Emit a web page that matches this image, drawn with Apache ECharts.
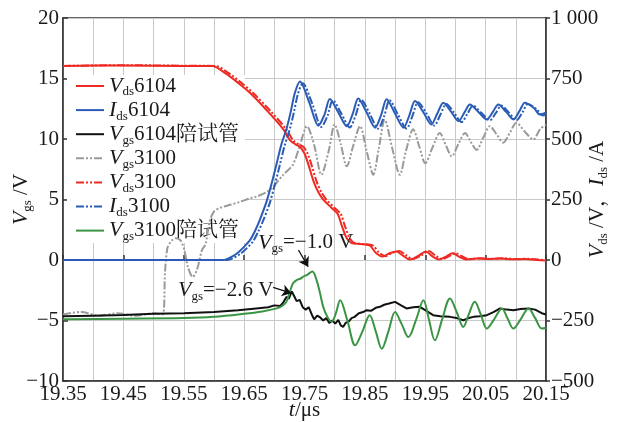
<!DOCTYPE html>
<html><head><meta charset="utf-8">
<script src="https://cdn.jsdelivr.net/npm/echarts@6/dist/echarts.min.js"></script>
<style>html,body{margin:0;padding:0;background:#fff}#c{width:617px;height:422px}</style>
</head><body><div id="c"></div>
<script>
// ---------- tick labels ----------
const xTickValues = [19.35,19.45,19.55,19.65,19.75,19.85,19.95,20.05,20.15];
const xTickLabels = ['19.35','19.45','19.55','19.65','19.75','19.85','19.95','20.05','20.15'];
const leftTickValues = [-10,-5,0,5,10,15,20];
const leftTickLabels = ['\u221210','\u22125','0','5','10','15','20'];
const rightTickValues = [-500,-250,0,250,500,750,1000];
const rightTickLabels = ['\u2212500','\u2212250','0','250','500','750','1 000'];

// ---------- series (time in µs) ----------
const seriesNames = ['Vds6104','Ids6104','Vgs6104p','Vgs3100','Vds3100','Ids3100','Vgs3100p'];
const legendLabels = ['{i|V}{s|ds}{n|6104}','{i|I}{s|ds}{n|6104}','{i|V}{s|gs}{n|6104陪试管}',
  '{i|V}{s|gs}{n|3100}','{i|V}{s|ds}{n|3100}','{i|I}{s|ds}{n|3100}','{i|V}{s|gs}{n|3100陪试管}'];

// Vds 6104 (V)
const vds6104T = [19.35,19.45,19.55,19.597,19.62,19.64,19.66,19.687,19.715,19.726,19.735,19.7425,19.75,19.757,19.765,19.773,19.781,19.795,19.805,19.812,19.82,19.828,19.842,19.858,19.868,19.879,19.891,19.902,19.913,19.924,19.939,19.951,19.962,19.973,19.985,19.995,20.007,20.018,20.035,20.055,20.075,20.095,20.115,20.135,20.15];
const vds6104V = [802,804,802,802,770,732,690,620,540,495,478,468,440,390,325,280,250,215,190,140,90,70,66,60,30,14,28,35,18,2,18,35,15,2,15,28,12,2,6,4,6,3,4,0,-2];
// Vds 3100 (V)
const vds3100T = [19.35,19.45,19.55,19.602,19.625,19.645,19.665,19.692,19.72,19.731,19.74,19.748,19.755,19.762,19.77,19.778,19.786,19.8,19.81,19.817,19.825,19.833,19.847,19.863,19.873,19.884,19.896,19.907,19.918,19.929,19.944,19.956,19.967,19.978,19.99,20.0,20.012,20.023,20.04,20.06,20.08,20.1,20.12,20.14,20.15];
const vds3100V = [802,805,803,802,771,733,690,620,540,495,478,468,440,390,325,280,250,215,190,140,90,70,66,60,32,16,30,37,20,4,20,37,18,4,16,28,14,3,7,5,7,4,5,1,0];
// Ids 6104 (A)
const ids6104T = [19.35,19.5,19.615,19.625,19.638,19.65,19.66,19.668,19.676,19.687,19.696,19.704,19.712,19.72,19.727,19.734,19.7425,19.758,19.773,19.783,19.792,19.806,19.82,19.83,19.839,19.853,19.867,19.877,19.886,19.9,19.914,19.924,19.933,19.947,19.96,19.97,19.98,19.993,20.005,20.015,20.024,20.038,20.052,20.062,20.071,20.084,20.096,20.106,20.115,20.13,20.14,20.15];
const ids6104V = [0,0,0,8,27,55,83,120,166,240,320,400,480,540,610,690,738,650,555,600,665,610,553,605,667,610,547,600,664,605,547,600,657,610,560,605,650,612,574,610,643,612,581,612,643,612,581,615,650,628,601,610];
// Ids 3100 (A)
const ids3100T = [19.35,19.5,19.62,19.63,19.643,19.655,19.665,19.673,19.681,19.692,19.701,19.709,19.717,19.725,19.732,19.739,19.747,19.763,19.778,19.788,19.797,19.811,19.825,19.835,19.844,19.858,19.872,19.882,19.891,19.905,19.919,19.929,19.938,19.952,19.965,19.975,19.985,19.998,20.01,20.02,20.029,20.043,20.057,20.067,20.076,20.089,20.101,20.111,20.12,20.135,20.145,20.15];
const ids3100V = [0,0,0,6,24,50,78,115,160,232,312,392,472,535,605,685,730,645,550,595,660,605,548,600,662,605,543,595,660,600,543,597,652,606,556,600,645,608,570,605,638,608,577,608,638,608,577,610,645,622,597,600];
// Vgs 6104 companion device (V)
const vgs6104pT = [19.35,19.40,19.45,19.5,19.55,19.6,19.64,19.67,19.69,19.70,19.71,19.715,19.72,19.724,19.729,19.733,19.737,19.742,19.747,19.752,19.757,19.762,19.766,19.771,19.776,19.781,19.786,19.791,19.796,19.801,19.806,19.81,19.814,19.818,19.823,19.828,19.833,19.84,19.847,19.853,19.86,19.868,19.875,19.882,19.89,19.9,19.91,19.919,19.93,19.941,19.952,19.963,19.975,19.991,20.002,20.013,20.022,20.03,20.04,20.052,20.063,20.074,20.085,20.096,20.108,20.121,20.132,20.143,20.15];
const vgs6104pV = [-4.65,-4.6,-4.55,-4.45,-4.4,-4.3,-4.15,-4.0,-3.9,-3.75,-3.8,-3.5,-3.05,-3.2,-2.6,-3.0,-3.4,-3.3,-3.9,-4.1,-3.9,-4.5,-4.9,-4.6,-4.75,-5.0,-4.8,-5.2,-5.0,-5.25,-4.95,-5.4,-5.53,-5.2,-5.1,-4.8,-4.7,-4.4,-4.3,-4.15,-4.2,-3.95,-3.87,-3.7,-3.6,-3.46,-3.75,-4.0,-3.9,-3.87,-4.2,-4.56,-4.65,-4.7,-4.8,-4.98,-4.8,-4.7,-4.65,-4.56,-4.3,-4.0,-4.1,-4.15,-4.05,-4.0,-4.1,-4.4,-4.5];
// Vgs 3100 (V)
const vgs3100T = [19.35,19.38,19.41,19.44,19.47,19.5,19.515,19.519,19.523,19.53,19.537,19.545,19.551,19.557,19.565,19.572,19.58,19.586,19.593,19.6,19.61,19.627,19.643,19.66,19.671,19.687,19.698,19.714,19.731,19.7425,19.754,19.766,19.778,19.79,19.8,19.81,19.82,19.831,19.842,19.853,19.864,19.873,19.883,19.895,19.908,19.918,19.93,19.94,19.95,19.962,19.974,19.984,19.994,20.005,20.016,20.025,20.035,20.046,20.057,20.068,20.079,20.09,20.101,20.115,20.129,20.14,20.15];
const vgs3100V = [-4.5,-4.3,-4.6,-4.4,-4.6,-4.4,-4.5,-1.0,1.0,1.6,1.8,1.6,0.8,-0.6,-1.4,-0.8,0.8,1.3,3.2,4.0,4.3,4.56,4.8,5.1,5.25,5.6,6.05,7.0,7.9,9.5,11.06,9.5,7.05,9.0,11.2,9.6,7.74,9.5,11.06,9.0,7.05,9.2,11.6,9.3,7.05,9.0,10.8,9.4,8.0,9.3,10.5,9.5,8.57,9.6,10.5,9.8,9.1,10.1,11.06,10.4,9.7,10.5,11.35,10.6,9.96,10.8,11.2];
// Vgs 3100 companion device (V)
const vgs3100pT = [19.35,19.45,19.55,19.6,19.65,19.68,19.704,19.713,19.72,19.726,19.731,19.737,19.743,19.748,19.755,19.763,19.77,19.776,19.781,19.788,19.795,19.802,19.809,19.821,19.834,19.846,19.858,19.868,19.878,19.889,19.9,19.911,19.922,19.935,19.947,19.956,19.966,19.978,19.991,20.002,20.013,20.022,20.032,20.042,20.052,20.064,20.077,20.086,20.096,20.108,20.121,20.132,20.143,20.15];
const vgs3100pV = [-4.9,-4.85,-4.8,-4.7,-4.45,-4.25,-4.0,-3.8,-3.46,-2.6,-1.93,-1.66,-1.55,-1.38,-1.2,-0.95,-1.66,-2.8,-3.87,-4.7,-5.1,-4.4,-3.32,-5.0,-7.05,-5.9,-4.56,-5.9,-7.33,-5.9,-4.3,-5.3,-6.37,-4.9,-3.32,-4.9,-6.64,-4.9,-3.18,-4.3,-5.53,-4.5,-3.46,-4.5,-5.67,-4.9,-4.0,-4.8,-5.67,-4.9,-4.0,-4.8,-5.67,-5.6];

// ---------- annotations (data units) ----------
const annotTexts = ['{i|V}{s|gs}{n|=\u22121.0 V}','{i|V}{s|gs}{n|=\u22122.6 V}'];
const annotTimes = [19.673, 19.5405];
const annotValues = [1.41, -2.49];
const arrowFrom = [[19.74, 0.83],[19.698, -2.27]];
const arrowTo = [[19.756, -0.55],[19.728, -2.74]];

// ---------- styling ----------
const serif = "'Liberation Serif','Times New Roman',serif";
const cjk = "'Liberation Serif','Noto Serif CJK SC','Noto Sans CJK SC',serif";
const txt = '#1a1a1a';
const rich = {
  i:{fontFamily:serif, fontStyle:'italic', fontSize:22, color:txt},
  s:{fontFamily:serif, fontSize:13, color:txt, padding:[12,0,0,0]},
  n:{fontFamily:cjk, fontSize:21, color:txt}
};
const dashDot = [8,2,2,2,2,2];
const colors = ['#ee2a22','#2b5cb5','#111111','#9a9a9a','#ee2a22','#2b5cb5','#3a9444'];
const types = ['solid','solid','solid',dashDot,dashDot,dashDot,'solid'];
const axesIdx = [1,1,0,0,1,1,0];
const smooths = [0.3,0.3,false,0.3,0.3,0.3,0.35];
const tArrs = [vds6104T,ids6104T,vgs6104pT,vgs3100T,vds3100T,ids3100T,vgs3100pT];
const vArrs = [vds6104V,ids6104V,vgs6104pV,vgs3100V,vds3100V,ids3100V,vgs3100pV];

function pick(values, labels, v){
  for (let i=0;i<values.length;i++) if (Math.abs(values[i]-v)<1e-6) return labels[i];
  return '';
}

const drawOrder = [3,2,6,0,4,1,5];
const series = drawOrder.map(k => {
  const s = {
    name: seriesNames[k], type:'line', yAxisIndex: axesIdx[k], xAxisIndex:0,
    symbol:'none', smooth: smooths[k], z: 2,
    lineStyle:{color:colors[k], width:2, type:types[k]},
    itemStyle:{color:colors[k]},
    data: tArrs[k].map((t,i)=>[t, vArrs[k][i]])
  };
  if (k===6){
    s.markPoint = {
      symbol:'rect', symbolSize:0, silent:true,
      label:{show:true, position:'right', distance:0, rich:rich},
      data: annotTexts.map((f,i)=>({coord:[annotTimes[i], annotValues[i]], label:{formatter:f}}))
    };
    s.markLine = {
      silent:true, symbol:['none','arrow'], symbolSize:9,
      lineStyle:{color:'#111', width:1.3, type:'solid'},
      label:{show:false},
      data: arrowFrom.map((a,i)=>[{coord:a},{coord:arrowTo[i]}])
    };
  }
  return s;
});

const chart = echarts.init(document.getElementById('c'), null, {renderer:'canvas'});
chart.setOption({
  animation:false,
  backgroundColor:'#fff',
  grid:{left:63, right:71, top:18, bottom:41, outerBoundsMode:'none', containLabel:false,
        show:true, borderColor:'#333', borderWidth:1.5, backgroundColor:'transparent'},
  legend:{
    orient:'vertical', left:67, top:75, itemWidth:28, itemHeight:12, itemGap:0.6,
    padding:[0,6,0,8], backgroundColor:'#fff', z:1,
    itemStyle:{opacity:0},
    data: seriesNames,
    formatter: n => legendLabels[seriesNames.indexOf(n)],
    textStyle:{fontFamily:serif, fontSize:21, color:txt, rich:rich}
  },
  xAxis:[{
    type:'value', min:19.35, max:20.15, interval:0.05,
    axisLine:{show:true, onZero:false, lineStyle:{color:'#333', width:1.5}},
    axisTick:{show:false},
    axisLabel:{formatter:v=>pick(xTickValues,xTickLabels,v), fontFamily:serif, fontSize:21, color:txt, margin:3, hideOverlap:false, showMinLabel:true, showMaxLabel:true},
    splitLine:{show:true, lineStyle:{color:'#c9c9c9', width:1}},
    name:'{i|t}{n|/\u03bcs}', nameLocation:'middle', nameGap:18, nameMoveOverlap:false,
    nameTextStyle:{rich:rich}
  },{
    type:'value', min:19.35, max:20.15, interval:0.05, position:'bottom',
    axisLine:{show:false}, axisLabel:{show:false}, splitLine:{show:false},
    axisTick:{show:true, inside:true, length:5, customValues:xTickValues, lineStyle:{color:'#333', width:1.5}}
  }],
  yAxis:[{
    type:'value', min:-10, max:20, interval:5, position:'left',
    axisLine:{show:true, onZero:false, lineStyle:{color:'#333', width:1.5}},
    axisTick:{show:true, inside:true, length:5, lineStyle:{color:'#333', width:1.5}},
    axisLabel:{formatter:v=>pick(leftTickValues,leftTickLabels,v), fontFamily:serif, fontSize:21, color:txt, margin:4},
    splitLine:{show:true, lineStyle:{color:'#c9c9c9', width:1}},
    name:'{i|V}{s|gs}{n| /V}', nameLocation:'middle', nameRotate:90, nameGap:29, nameMoveOverlap:false,
    nameTextStyle:{rich:rich}
  },{
    type:'value', min:-500, max:1000, interval:250, position:'right',
    axisLine:{show:true, onZero:false, lineStyle:{color:'#333', width:1.5}},
    axisTick:{show:true, inside:false, length:4, lineStyle:{color:'#333', width:1.5}},
    axisLabel:{formatter:v=>pick(rightTickValues,rightTickLabels,v), fontFamily:serif, fontSize:21, color:txt, margin:5},
    splitLine:{show:false},
    name:'{i|V}{s|ds}{n| /V\uff0c}{i|I}{s|ds}{n| /A}', nameLocation:'middle', nameRotate:90, nameGap:39, nameMoveOverlap:false,
    nameTextStyle:{rich:rich}
  }],
  series: series
});
</script>
</body></html>
